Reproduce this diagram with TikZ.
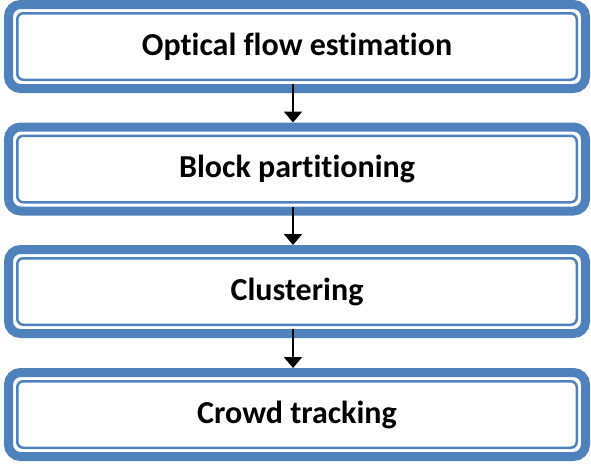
\documentclass[tikz,border=0pt]{standalone}
\usepackage{fontspec}
\setmainfont[Ligatures={NoCommon}]{Carlito}
\usetikzlibrary{arrows.meta}
\definecolor{bandblue}{HTML}{4F81BD}
\tikzset{
  stage/.style={draw=bandblue, line width=9pt, rounded corners=12pt,
    minimum width=577pt, minimum height=84pt, inner sep=0pt,
    font=\fontsize{32}{36}\selectfont\bfseries, text=black},
  innerline/.style={draw=bandblue, line width=2.5pt, rounded corners=6pt},
  flowarrow/.style={line width=2pt, -{Triangle[width=18pt,length=11pt]}}
}
\newcommand{\innerframe}[1]{%
  \draw[innerline] ([shift={(13.25pt,13.25pt)}]#1.south west) rectangle ([shift={(-13.25pt,-13.25pt)}]#1.north east);}
\begin{document}
\begin{tikzpicture}[x=1pt,y=1pt]
\useasboundingbox (0,0) rectangle (591,-463);
\node[stage] (b1) at (297,-46.5) {Optical flow estimation};
\node[stage] (b2) at (297,-169) {Block partitioning};
\node[stage] (b3) at (297,-291.5) {Clustering};
\node[stage] (b4) at (297,-414.5) {Crowd tracking};
\innerframe{b1}
\innerframe{b2}
\innerframe{b3}
\innerframe{b4}
\draw[flowarrow] ([shift={(-4pt,9pt)}]b1.south) -- ([xshift=-4pt]b2.north);
\draw[flowarrow] ([shift={(-4pt,9pt)}]b2.south) -- ([xshift=-4pt]b3.north);
\draw[flowarrow] ([shift={(-4pt,9pt)}]b3.south) -- ([xshift=-4pt]b4.north);
\end{tikzpicture}
\end{document}
